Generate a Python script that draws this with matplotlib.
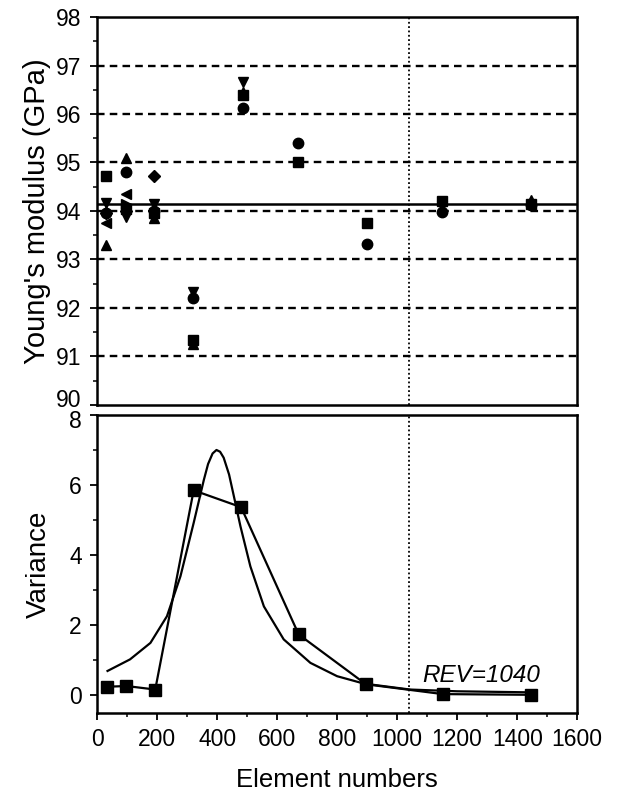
import numpy as np
import matplotlib
matplotlib.use('Agg')
import matplotlib.pyplot as plt
import matplotlib.transforms as mtransforms
from matplotlib.ticker import MultipleLocator

plt.rcParams['font.family'] = ['Liberation Sans', 'DejaVu Sans']

nan = np.nan

# element numbers used for each model
x_elem = [30, 95, 190, 320, 485, 670, 900, 1150, 1445]

# Young's modulus (GPa) for each sample, one marker shape each
e_square = [94.72, 94.05, 93.95, 91.35, 96.40, 95.00, 93.76, 94.20, 94.15]
e_circle = [93.95, 94.80, 94.00, 92.20, 96.12, 95.40, 93.32, 93.98, 94.12]
e_tri_up = [93.30, 95.10, 93.85, 91.25, 96.45, nan, nan, nan, 94.22]
e_tri_down = [94.16, 93.88, 94.15, 92.32, 96.65, nan, nan, 94.10, nan]
e_diamond = [93.95, 94.00, 94.72, nan, nan, nan, nan, nan, nan]
e_tri_left = [93.75, 94.35, nan, nan, nan, nan, nan, nan, nan]
e_tri_right = [nan, 94.15, nan, nan, nan, nan, nan, nan, nan]

e_mean = 94.15
rev = 1040

# variance of Young's modulus
var_x = [33, 98, 194, 322, 480, 672, 896, 1152, 1445]
var_y = [0.25, 0.27, 0.17, 5.85, 5.37, 1.74, 0.32, 0.04, 0.02]

# fitted curve
fit_x = [35, 110, 178, 233, 278, 322, 356, 370, 385, 398, 410, 422, 440, 456,
         478, 511, 556, 622, 711, 800, 889, 1043, 1200, 1443]
fit_y = [0.70, 1.03, 1.50, 2.26, 3.40, 4.92, 6.15, 6.60, 6.90, 7.00, 6.95,
         6.78, 6.30, 5.68, 4.82, 3.68, 2.54, 1.60, 0.93, 0.55, 0.34, 0.17,
         0.12, 0.09]

fig = plt.figure(figsize=(6.18, 7.95), dpi=100)
ax1 = fig.add_axes([0.157, 0.4906, 0.777, 0.488])
ax2 = fig.add_axes([0.157, 0.1031, 0.777, 0.375])

# top panel
for v in range(91, 98):
    ax1.axhline(v, color='k', lw=1.7, ls=(0, (3.2, 2.2)), zorder=1)
ax1.axhline(e_mean, color='k', lw=1.8, zorder=2)
ax1.axvline(rev, color='k', lw=1.3, ls=(0, (1, 1.4)), zorder=1)

series = [(e_square, 's'), (e_circle, 'o'), (e_tri_up, '^'), (e_tri_down, 'v'),
          (e_diamond, 'D'), (e_tri_left, '<'), (e_tri_right, '>')]
for vals, m in series:
    ax1.plot(x_elem, vals, ls='none', marker=m, ms=7.5 if m != 'D' else 6.5,
             color='k', zorder=3)

ax1.set_xlim(0, 1600)
ax1.set_ylim(90, 98)
ax1.yaxis.set_major_locator(MultipleLocator(1))
ax1.yaxis.set_minor_locator(MultipleLocator(0.5))
ax1.set_xticks([])
ax1.set_ylabel("Young's modulus (GPa)", fontsize=21, labelpad=4)

# bottom panel
ax2.axvline(rev, color='k', lw=1.3, ls=(0, (1, 1.4)), zorder=1)
ax2.plot(fit_x, fit_y, color='k', lw=1.6, zorder=2)
ax2.plot(var_x, var_y, color='k', lw=1.6, marker='s', ms=8, zorder=3)
ax2.text(1085, 0.58, 'REV=1040', fontsize=17.5, style='italic', va='center')

ax2.set_xlim(0, 1600)
ax2.set_ylim(-0.5, 8)
ax2.xaxis.set_major_locator(MultipleLocator(200))
ax2.xaxis.set_minor_locator(MultipleLocator(100))
ax2.yaxis.set_major_locator(MultipleLocator(2))
ax2.yaxis.set_minor_locator(MultipleLocator(1))
ax2.set_ylabel('Variance', fontsize=20, labelpad=12)
ax2.set_xlabel('Element numbers', fontsize=18.5, labelpad=12)

for ax in (ax1, ax2):
    for s in ax.spines.values():
        s.set_linewidth(1.8)
    ax.tick_params(which='major', direction='out', length=5, width=1.3,
                   labelsize=16.5, pad=6)
    ax.tick_params(which='minor', direction='out', length=3, width=1.1)

# nudge the two crowded labels where the panels meet
fig.canvas.draw()
for t in ax1.get_yticklabels():
    if t.get_text() == '90':
        t.set_transform(t.get_transform() +
                        mtransforms.ScaledTranslation(0, 5 / 72, fig.dpi_scale_trans))
for t in ax2.get_yticklabels():
    if t.get_text() == '8':
        t.set_transform(t.get_transform() +
                        mtransforms.ScaledTranslation(0, -3 / 72, fig.dpi_scale_trans))

fig.savefig('out.png', dpi=100, facecolor='white')
